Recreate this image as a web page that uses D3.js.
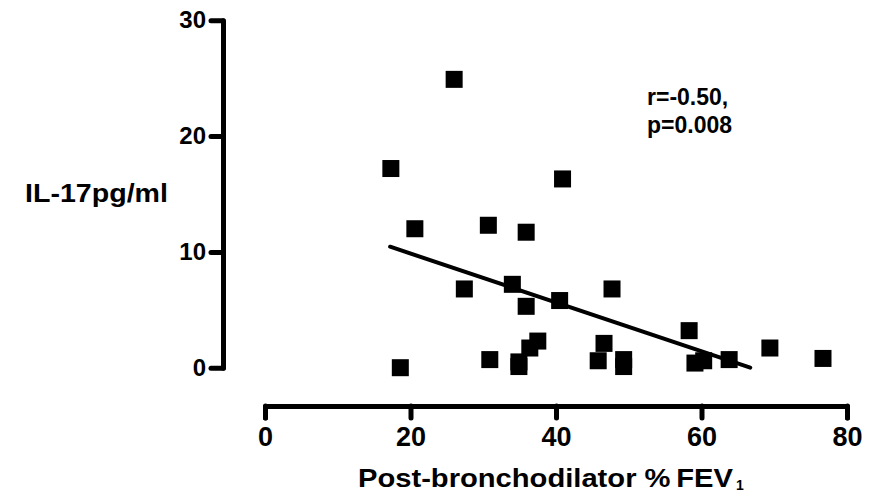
<!DOCTYPE html>
<html>
<head>
<meta charset="utf-8">
<script src="https://cdn.jsdelivr.net/npm/d3@7"></script>
<style>
  body { margin: 0; background: #fff; }
  svg { display: block; font-family: "Liberation Sans", Arial, sans-serif; font-weight: bold; }
</style>
</head>
<body>
<svg id="chart" width="872" height="492"></svg>
<script>
// post-bronchodilator %FEV1 vs IL-17 (pg/ml)
var fev  = [17.3, 26.0, 40.9, 20.6, 30.7, 35.9, 27.4, 34.0, 35.9, 40.5, 47.7, 58.3, 37.5, 36.4,
            46.6, 69.4, 18.6, 30.9, 34.9, 34.9, 45.8, 49.3, 49.3, 59.1, 60.3, 63.8, 76.7];
var il17 = [17.2, 24.9, 16.3, 12.0, 12.3, 11.7, 6.8, 7.2, 5.3, 5.8, 6.8, 3.2, 2.3, 1.7,
            2.1, 1.7, 0.0, 0.7, 0.5, 0.1, 0.6, 0.7, 0.1, 0.4, 0.6, 0.7, 0.8];
// regression line end points (as drawn)
var fitX = [17.2, 66.7];
var fitY = [10.45, 0];
var xTicks = [0, 20, 40, 60, 80];
var yTicks = [0, 10, 20, 30];

var svg = d3.select("#chart");

var x = d3.scaleLinear().domain([0, 80]).range([265, 847]);
var y = d3.scaleLinear().domain([0, 30]).range([367.7, 20.3]);

// x axis sits below the plot
var xAxis = svg.append("g")
  .attr("transform", "translate(0,406)")
  .call(d3.axisBottom(x).tickValues(xTicks).tickSize(12).tickSizeOuter(12).tickPadding(9));

var yAxis = svg.append("g")
  .attr("transform", "translate(223,0)")
  .call(d3.axisLeft(y).tickValues(yTicks).tickSize(12).tickSizeOuter(0).tickPadding(5));

[xAxis, yAxis].forEach(function(ax){
  ax.selectAll("path, line")
    .attr("stroke", "#000")
    .attr("stroke-width", 5)
    .attr("stroke-linecap", "round")
    .attr("stroke-linejoin", "round")
    .attr("fill", "none");
  ax.selectAll("text")
    .attr("fill", "#000")
    .attr("font-family", "Liberation Sans, Arial, sans-serif")
    .attr("font-weight", "bold");
});
xAxis.selectAll("text").attr("font-size", 27);
yAxis.selectAll("text").attr("font-size", 24);

// points
var s = 17;
svg.selectAll("rect.pt")
  .data(fev)
  .enter()
  .append("rect")
  .attr("class", "pt")
  .attr("x", function(d){ return x(d) - s/2; })
  .attr("y", function(d, i){ return y(il17[i]) - s/2; })
  .attr("width", s)
  .attr("height", s)
  .attr("fill", "#000");

// fit line
var line = d3.line()
  .x(function(d){ return x(d[0]); })
  .y(function(d){ return y(d[1]); });
svg.append("path")
  .datum(d3.zip(fitX, fitY))
  .attr("d", line)
  .attr("stroke", "#000")
  .attr("stroke-width", 4)
  .attr("stroke-linecap", "round")
  .attr("fill", "none");

// labels
svg.append("text")
  .attr("x", 25).attr("y", 202)
  .attr("font-size", 25)
  .attr("textLength", 143)
  .attr("lengthAdjust", "spacingAndGlyphs")
  .text("IL-17pg/ml");

svg.append("text")
  .attr("x", 358).attr("y", 487)
  .attr("font-size", 25)
  .attr("textLength", 375)
  .attr("lengthAdjust", "spacingAndGlyphs")
  .text("Post-bronchodilator %\u2009FEV");
svg.append("text")
  .attr("x", 736).attr("y", 490)
  .attr("font-size", 14)
  .text("1");

svg.append("text")
  .attr("x", 647).attr("y", 105)
  .attr("font-size", 23)
  .text("r=-0.50,");
svg.append("text")
  .attr("x", 647).attr("y", 133)
  .attr("font-size", 23)
  .text("p=0.008");
</script>
</body>
</html>
